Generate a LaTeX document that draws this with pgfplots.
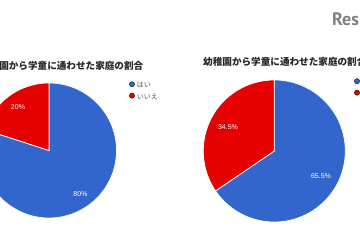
\documentclass[border=0pt]{standalone}
\usepackage{pgfplots}
\pgfplotsset{compat=1.18}
\usepackage{fontspec}
\setmainfont{Liberation Sans}
\newfontfamily\jp{Noto Sans CJK JP}
\newfontfamily\logo{PT Sans}
\definecolor{pieblue}{HTML}{3366CC}
\definecolor{piered}{HTML}{E60000}
\definecolor{legtext}{HTML}{555555}
% data (percent)
\def\leftYes{80}
\def\leftNo{20}
\def\rightYes{65.5}
\def\rightNo{34.5}
\pgfplotsset{pieframe/.style={at={(0,0)}, anchor=south west, scale only axis,
  width=360pt, height=240pt, xmin=0, xmax=360, ymin=0, ymax=240, y dir=reverse,
  hide axis, clip=false,
  legend image code/.code={\fill[##1] (0.08cm,0.05cm) circle (2.6pt);},
  legend style={draw=none, fill=none, font=\jp\fontsize{7}{8}\selectfont,
    text=legtext, anchor=north west, row sep=0.5pt, inner sep=0pt},
  legend cell align=left}}
\begin{document}
\begin{tikzpicture}
\useasboundingbox (0,0) rectangle (360pt,240pt);
\clip (0,0) rectangle (360pt,240pt);
\pgfmathsetmacro{\lA}{90+3.6*\leftNo}
\pgfmathsetmacro{\rA}{90+3.6*\rightNo}
% left chart
\begin{axis}[pieframe, legend style={at={(axis cs:129,80)}}]
\addplot[forget plot, fill=pieblue, draw=white, line width=0.7pt, domain=\lA:450, samples=150, variable=\t]
  ({49+67.5*cos(\t)},{150.5-67.5*sin(\t)}) -- (axis cs:49,150.5) -- cycle;
\addplot[forget plot, fill=piered, draw=white, line width=0.7pt, domain=90:\lA, samples=60, variable=\t]
  ({49+67.5*cos(\t)},{150.5-67.5*sin(\t)}) -- (axis cs:49,150.5) -- cycle;
\addlegendimage{fill=pieblue}
\addlegendimage{fill=piered}
\legend{はい,いいえ}
\node[text=white, font=\fontsize{7}{8}\selectfont] at (axis cs:18,107.5) {20\%};
\node[text=white, font=\fontsize{7}{8}\selectfont] at (axis cs:80.5,194) {80\%};
\node[anchor=east, inner sep=0pt, text=black!85, font=\jp\bfseries\fontsize{9.6}{10}\selectfont] at (axis cs:143.5,66) {幼稚園から学童に通わせた家庭の割合};
\end{axis}
% right chart
\begin{axis}[pieframe, legend style={at={(axis cs:354,77)}}]
\addplot[forget plot, fill=pieblue, draw=white, line width=0.7pt, domain=\rA:450, samples=150, variable=\t]
  ({274.3+71*cos(\t)},{151-71*sin(\t)}) -- (axis cs:274.3,151) -- cycle;
\addplot[forget plot, fill=piered, draw=white, line width=0.7pt, domain=90:\rA, samples=80, variable=\t]
  ({274.3+71*cos(\t)},{151-71*sin(\t)}) -- (axis cs:274.3,151) -- cycle;
\addlegendimage{fill=pieblue}
\addlegendimage{fill=piered}
\legend{はい,いいえ}
\node[text=white, font=\fontsize{7}{8}\selectfont] at (axis cs:228,127.5) {34.5\%};
\node[text=white, font=\fontsize{7}{8}\selectfont] at (axis cs:321,176) {65.5\%};
\node[anchor=west, inner sep=0pt, text=black!85, font=\jp\bfseries\fontsize{9.6}{10}\selectfont] at (axis cs:203,62) {幼稚園から学童に通わせた家庭の割合};
\node[anchor=base west, inner sep=0pt, text=black!50, font=\logo\bfseries\fontsize{18}{18}\selectfont] at (axis cs:332,25.5) {Res};
\end{axis}
\end{tikzpicture}
\end{document}
